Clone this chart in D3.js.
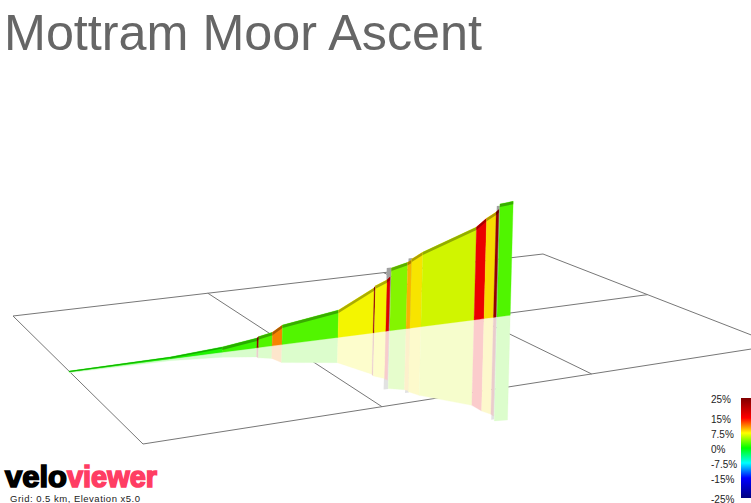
<!DOCTYPE html>
<html><head><meta charset="utf-8">
<script src="https://cdn.jsdelivr.net/npm/d3@7"></script>
<style>html,body{margin:0;padding:0;background:#fff;overflow:hidden}svg{display:block}text{font-family:"Liberation Sans",Arial,sans-serif}</style>
</head><body>
<svg id="c" width="751" height="503"></svg>
<script>
const title = "Mottram Moor Ascent";
const gridNote = "Grid: 0.5 km, Elevation x5.0";
// route profile: km along the route, elevation m at segment start/end, gradient %
const segStart = [0,0.285,0.432,0.530,0.535,0.573,0.601,0.759,0.858,0.8615,0.894,0.905,0.951,0.962,0.993,1.143,1.171,1.1977,1.2077];
const segEnd   = [0.285,0.432,0.530,0.535,0.573,0.601,0.759,0.858,0.8615,0.894,0.902,0.951,0.962,0.993,1.143,1.171,1.1977,1.2048,1.245];
const elevStart= [0.5,1.1,3.0,5.5,6.2,7.6,10.9,15.3,25.1,26.2,28.7,35.0,37.0,38.6,41.6,51.8,56.0,58.7,63.0];
const elevEnd  = [1.1,3.0,5.5,6.2,7.6,10.9,15.3,25.1,26.2,28.7,30.0,37.0,38.0,41.6,51.8,56.0,58.7,60.0,63.5];
const gradient = [0.8,0.9,1.8,23,2.5,11,2.5,7.4,23,7.4,17,4,9.5,8,6.3,16,8.3,23,2.4];
// grey end walls
const wallDist = [0.892,0.953,1.199];
const wallEnd  = [0.905,0.964,1.2077];
const wallElev = [35.3,39.0,62.0];
// grid cell indices
const gridU = [0,1,2,3];
const gridV = [0,1,2];
// legend
const legendValues = [25,15,7.5,0,-7.5,-15,-25];
const legendLabels = ["25%","15%","7.5%","0%","-7.5%","-15%","-25%"];
const legendColors = ["#7f0000","#ff0000","#ffff00","#00ff00","#00ffff","#0000ff","#00007f"];

const svg = d3.select("#c");
const colour = d3.scaleLinear().domain(legendValues).range(legendColors);
const xS = d3.scaleLinear().domain([0,1.25]).range([69,512]);
const hS = d3.scaleLinear().domain([0,63]).range([0,113]);
const baseS = d3.scaleLinear().domain([0,1.25]).range([372,315]);
const lean = 0.026, mirror = 0.92, strip = 3;
const shade = c => { const r=d3.rgb(c); return d3.rgb(r.r*0.97,r.g*0.96,r.b*0.96).formatHex(); };
const wash = c => d3.interpolateRgb("#ffffff", c)(0.2);

// perspective map of the ground grid (unit square to quad)
function homography(p00,p10,p11,p01){
  const [x0,y0]=p00,[x1,y1]=p10,[x2,y2]=p11,[x3,y3]=p01;
  const dx1=x1-x2,dx2=x3-x2,dy1=y1-y2,dy2=y3-y2,sx=x0-x1+x2-x3,sy=y0-y1+y2-y3;
  const den=dx1*dy2-dx2*dy1;
  const g=(sx*dy2-dx2*sy)/den,h=(dx1*sy-sx*dy1)/den;
  const a=x1-x0+g*x1,b=x3-x0+h*x3,d=y1-y0+g*y1,e=y3-y0+h*y3;
  return (u,v)=>{const w=g*u+h*v+1;return [(a*u+b*v+x0)/w,(d*u+e*v+y0)/w];};
}
const ground = homography([13,316],[543,254],[777,345],[143,444]);
const uS = d3.scaleLinear().domain([0,3]).range([0,1]);
const vS = d3.scaleLinear().domain([0,2]).range([0,1]);
const gridG = svg.append("g").attr("stroke","#777").attr("stroke-width",1).attr("fill","none");
const gl = d3.line();
gridV.forEach(v=>gridG.append("path").attr("d",gl([ground(uS(0),vS(v)),ground(uS(3),vS(v))])));
gridU.forEach(u=>gridG.append("path").attr("d",gl([ground(uS(u),vS(0)),ground(uS(u),vS(2))])));

const segs = segStart.map((s,i)=>({s,e:segEnd[i],a:elevStart[i],b:elevEnd[i],c:shade(colour(gradient[i]))}));
function pt(d,el,k){const h=hS(el)*k;return [xS(d)+lean*h,baseS(d)-h];}
const poly = d3.line();

// reflection: walls first, segments above them
const refl = svg.append("g");
wallDist.forEach((d,i)=>refl.append("path").attr("fill","#e2e2e2")
  .attr("d",poly([pt(d,0,1),pt(wallEnd[i],0,1),pt(wallEnd[i],wallElev[i],-mirror),pt(d,wallElev[i],-mirror)])+"Z"));
segs.forEach(g=>refl.append("path").attr("fill",wash(g.c)).attr("stroke",wash(g.c)).attr("stroke-width",0.3)
  .attr("d",poly([pt(g.s,0,1),pt(g.e,0,1),pt(g.e,g.b,-mirror),pt(g.s,g.a,-mirror)])+"Z"));

// walls
const walls = svg.append("g");
wallDist.forEach((d,i)=>walls.append("path").attr("fill","#a0a0a0")
  .attr("d",poly([pt(d,0,1),pt(wallEnd[i],0,1),pt(wallEnd[i],wallElev[i],1),pt(d,wallElev[i],1)])+"Z"));

// profile bodies and darker top strip
const body = svg.append("g");
segs.forEach(g=>{
  body.append("path").attr("fill",g.c).attr("stroke",g.c).attr("stroke-width",0.3)
    .attr("d",poly([pt(g.s,0,1),pt(g.e,0,1),pt(g.e,g.b,1),pt(g.s,g.a,1)])+"Z");
  const dark=d3.color(g.c).darker(1).formatHex();
  const A=pt(g.s,g.a,1),B=pt(g.e,g.b,1);
  const t=Math.min(strip,hS(Math.min(g.a,g.b))*0.5+0.5);
  body.append("path").attr("fill",dark)
    .attr("d",poly([A,B,[B[0],B[1]+t],[A[0],A[1]+t]])+"Z");
});

// title
svg.append("text").attr("x",4).attr("y",50).attr("font-size",50.3).attr("fill","#666").text(title);

// legend
const legY = d3.scaleLinear().domain([25,-25]).range([398,498]);
const defs = svg.append("defs");
const lg = defs.append("linearGradient").attr("id","lg").attr("x1",0).attr("x2",0).attr("y1",0).attr("y2",1);
legendValues.forEach((v,i)=>lg.append("stop").attr("offset",(legY(v)-398)/100).attr("stop-color",legendColors[i]));
svg.append("rect").attr("x",741).attr("y",398).attr("width",10).attr("height",100).attr("fill","url(#lg)");
const labelY = d3.scaleLinear().domain([25,-25]).range([403,502.5]);
legendValues.forEach((v,i)=>svg.append("text").attr("x",711).attr("y",labelY(v)).attr("font-size",10).attr("fill","#222").text(legendLabels[i]));

// logo
const logo = svg.append("text").attr("y",486.5).attr("font-size",30).attr("font-weight","bold").attr("stroke-width",1.6);
logo.append("tspan").attr("x",5).attr("fill","#000").attr("stroke","#000").attr("textLength",62).attr("lengthAdjust","spacingAndGlyphs").text("velo");
logo.append("tspan").attr("x",67).attr("fill","#ff3d63").attr("stroke","#ff3d63").attr("textLength",90).attr("lengthAdjust","spacingAndGlyphs").text("viewer");
svg.append("text").attr("x",10).attr("y",501.5).attr("font-size",9.5).attr("fill","#222").attr("textLength",130).attr("lengthAdjust","spacing").text(gridNote);
</script>
</body></html>
